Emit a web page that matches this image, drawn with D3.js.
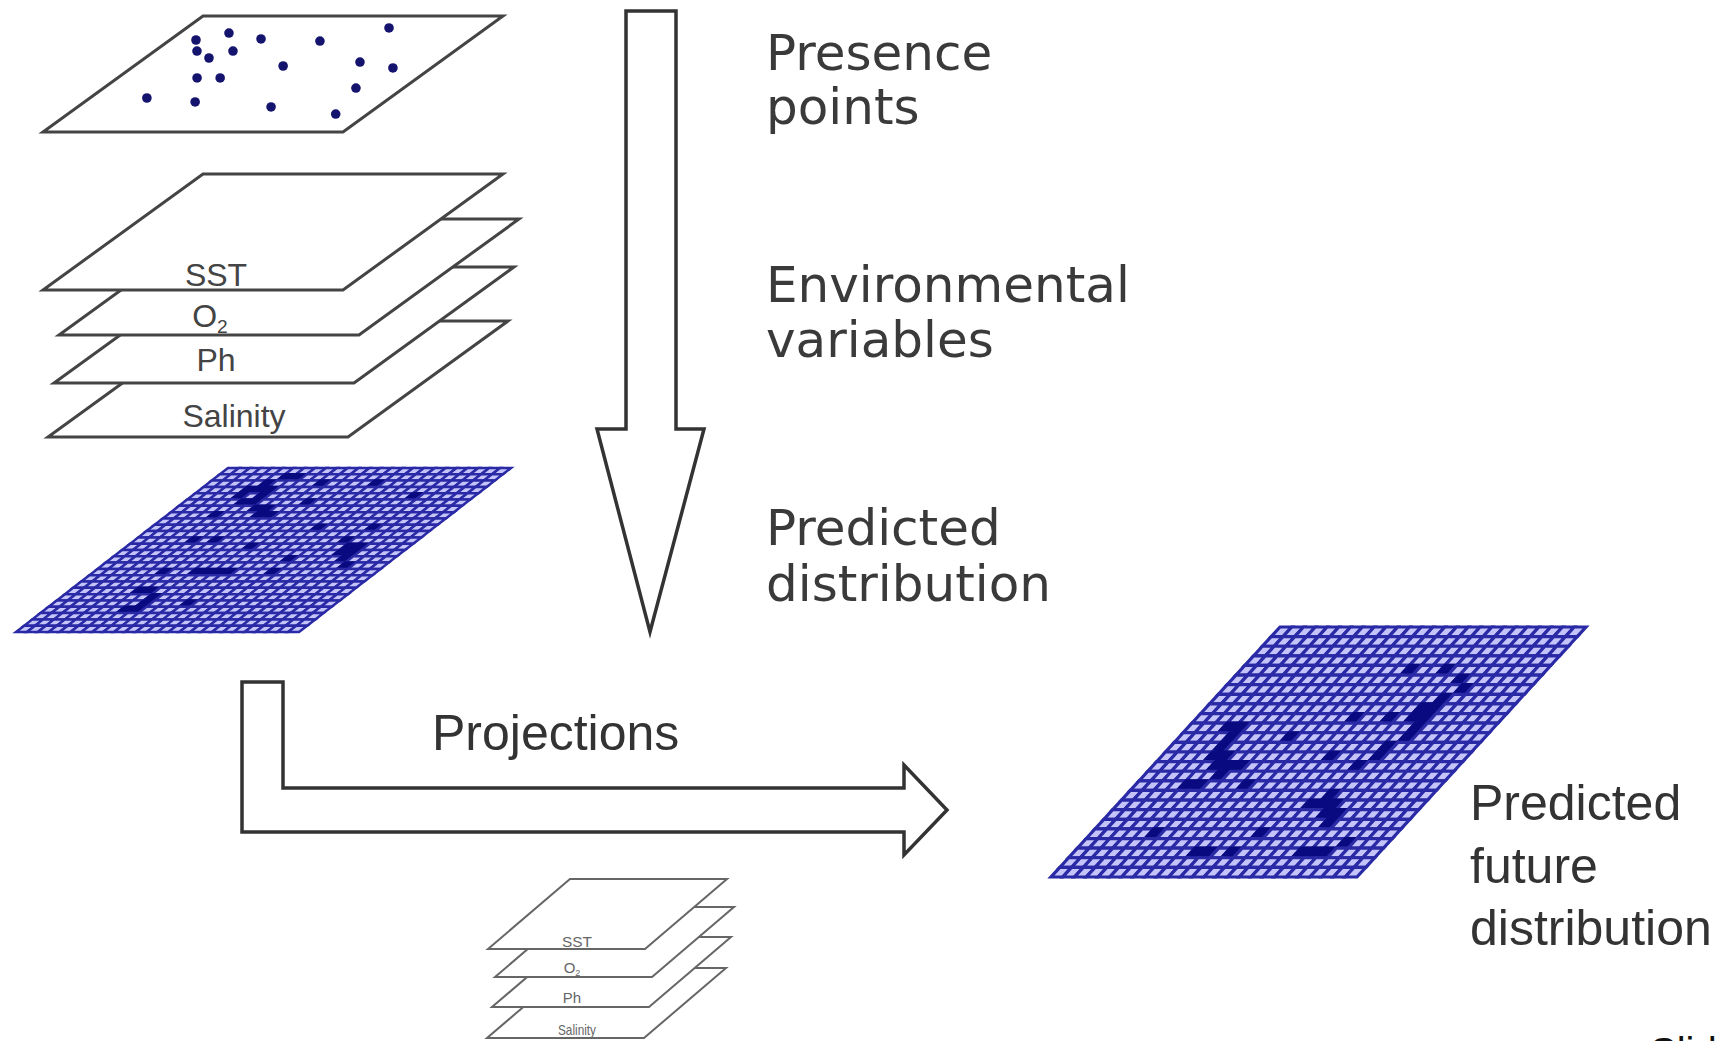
<!DOCTYPE html>
<html><head><meta charset="utf-8">
<script src="https://cdn.jsdelivr.net/npm/d3@7"></script>
<style>html,body{margin:0;padding:0;background:#fff;} svg{display:block;}</style>
</head><body>
<svg id="c" width="1724" height="1041"></svg>
<script>
// ---------- data ----------
// presence points: [u, v] position on the top plane (0..1)
const presenceU = [.087,.165,.299,.505,.675,.141,.213,.261,.497,.735,.872,.265,.342,.841,.19,.369,.645,.893];
const presenceV = [.207,.147,.198,.216,.103,.302,.362,.302,.431,.397,.448,.534,.534,.621,.707,.741,.784,.845];
const layerLabels = ["SST","O2","Ph","Salinity"];
const stepLabels = [["Presence","points"],["Environmental","variables"],["Predicted","distribution"]];
const projectionLabel = "Projections";
const futureLabel = ["Predicted","future","distribution"];
const slideLabel = "Slide";
const gridSize = 26;
// occupied cells [row, col]
const currentCells = [[3,4],[4,4],[3,5],[3,6],[4,6],[5,5],[5,6],[6,7],[6,8],[7,9],[1,6],[1,7],[2,5],[2,10],[2,15],[5,11],[4,20],[7,8],[7,4],[9,15],[9,20],[11,5],[11,7],[12,11],[14,16],[11,19],[12,20],[12,21],[13,20],[13,21],[14,21],[15,22],[16,6],[16,9],[16,10],[16,11],[16,12],[16,16],[19,6],[19,7],[20,8],[21,8],[21,12],[22,7],[22,8]];
const futureCells = [[4,14],[4,17],[5,19],[6,20],[7,19],[8,18],[8,19],[9,18],[9,19],[10,19],[9,13],[9,16],[10,3],[10,4],[11,4],[11,19],[12,4],[12,18],[13,4],[13,5],[13,18],[14,5],[14,6],[14,7],[15,6],[11,9],[13,14],[14,17],[16,5],[16,4],[17,17],[18,17],[18,16],[18,18],[19,18],[19,19],[20,19],[16,9],[21,5],[21,14],[23,10],[23,11],[23,13],[23,19],[23,20],[23,21],[22,22]];

// ---------- layout ----------
const svg = d3.select("#c");
function plane(p){
  const vy = d3.scaleLinear().domain([0,1]).range([p.by - p.h, p.by]);
  const vs = d3.scaleLinear().domain([0,1]).range([p.skew, 0]);
  const ux = d3.scaleLinear().domain([0,1]).range([0, p.w]);
  return (u,v) => [p.bx + vs(v) + ux(u), vy(v)];
}
const line = d3.line();

// top plane with presence points
const topP = plane({bx:43, by:132, w:300, h:116, skew:160});
svg.append("path").attr("d", line([topP(0,0),topP(1,0),topP(1,1),topP(0,1)]) + "Z")
  .attr("fill","#fff").attr("stroke","#444").attr("stroke-width",3).attr("stroke-linejoin","miter");
svg.selectAll("circle.pt").data(presenceU.map((u,i)=>[u,presenceV[i]])).enter().append("circle")
  .attr("class","pt").attr("cx",d=>topP(d[0],d[1])[0]).attr("cy",d=>topP(d[0],d[1])[1])
  .attr("r",4.8).attr("fill","#14146e");

// stacks
function drawStack(cfg){
  const g = svg.append("g");
  const idx = d3.range(layerLabels.length).reverse();
  idx.forEach(i=>{
    const P = plane({bx:cfg.bx[i], by:cfg.by[i], w:cfg.w, h:cfg.h, skew:cfg.skew});
    g.append("path").attr("d", line([P(0,0),P(1,0),P(1,1),P(0,1)]) + "Z")
      .attr("fill","#fff").attr("stroke",cfg.stroke).attr("stroke-width",cfg.sw);
  });
  layerLabels.forEach((lab,i)=>{
    const t = g.append("text").attr("x",cfg.lx[i]).attr("y",cfg.ly[i])
      .attr("text-anchor","middle").attr("font-family","'Liberation Sans', Arial, sans-serif")
      .attr("font-size",cfg.fs).attr("fill",cfg.tc);
    if(lab==="O2"){
      t.append("tspan").text("O");
      t.append("tspan").attr("font-size",cfg.fs*0.6).attr("dy",cfg.fs*0.2).text("2");
    } else t.text(lab);
    if(cfg.tl && cfg.tl[i]) t.attr("textLength",cfg.tl[i]).attr("lengthAdjust","spacingAndGlyphs");
  });
}
drawStack({bx:[43,59,54,48], by:[290,335,383,437], w:300, h:116, skew:160, stroke:"#444", sw:3,
  lx:[216,210,216,234], ly:[286,327,371,427], fs:32, tc:"#444"});
drawStack({bx:[488,495,492,487], by:[949,977,1007,1038], w:157, h:70, skew:82, stroke:"#666", sw:2,
  lx:[577,572,572,577], ly:[947,973,1003,1035], fs:15, tc:"#666", tl:[30,0,0,38]});

// grids
function drawGrid(cfg, cells){
  const P = plane(cfg);
  const occ = new Set(cells.map(d=>d[0]+"_"+d[1]));
  const data = [];
  for(let r=0;r<gridSize;r++) for(let c=0;c<gridSize;c++) data.push({r,c,on:occ.has(r+"_"+c)});
  const s = d3.scaleLinear().domain([0,gridSize]).range([0,1]);
  const g = svg.append("g");
  g.selectAll("path").data(data).enter().append("path")
    .attr("d", d=> line([P(s(d.c),s(d.r)),P(s(d.c+1),s(d.r)),P(s(d.c+1),s(d.r+1)),P(s(d.c),s(d.r+1))])+"Z")
    .attr("fill", d=> d.on ? "#0a0a80" : "#c4c4fa")
    .attr("stroke", d=> d.on ? "#0a0a80" : "#2a2aa6").attr("stroke-width", cfg.sw);
}
drawGrid({bx:16, by:632, w:283, h:164, skew:212, sw:2.5}, currentCells);
drawGrid({bx:1051, by:877, w:306, h:250, skew:229, sw:3.2}, futureCells);

// arrows
const downArrow = [[626,11],[676,11],[676,429],[704,429],[650,632],[597,429],[626,429]];
svg.append("path").attr("d", line(downArrow)+"Z").attr("fill","#fff").attr("stroke","#333").attr("stroke-width",3.5);
const lArrow = [[242,682],[283,682],[283,788],[904,788],[904,765],[947,810],[904,855],[904,832],[242,832]];
svg.append("path").attr("d", line(lArrow)+"Z").attr("fill","#fff").attr("stroke","#333").attr("stroke-width",3.5);

// texts
const stepY = [[70,124],[302,357],[545,601]];
stepLabels.forEach((lines,i)=>{
  lines.forEach((t,j)=>{
    svg.append("text").attr("x",766).attr("y",stepY[i][j]).text(t)
      .attr("font-family","'DejaVu Sans', Verdana, sans-serif").attr("font-size",50).attr("fill","#3a3a3a");
  });
});
svg.append("text").attr("x",432).attr("y",750).text(projectionLabel)
  .attr("font-family","'Liberation Sans', Arial, sans-serif").attr("font-size",50).attr("fill","#333");
const futY = [820,883,945];
futureLabel.forEach((t,j)=>{
  svg.append("text").attr("x",1470).attr("y",futY[j]).text(t)
    .attr("font-family","'Liberation Sans', Arial, sans-serif").attr("font-size",50).attr("fill","#333");
});
svg.append("text").attr("x",1650).attr("y",1066).text(slideLabel)
  .attr("font-family","'Liberation Sans', Arial, sans-serif").attr("font-size",40).attr("fill","#111");
</script>
</body></html>
